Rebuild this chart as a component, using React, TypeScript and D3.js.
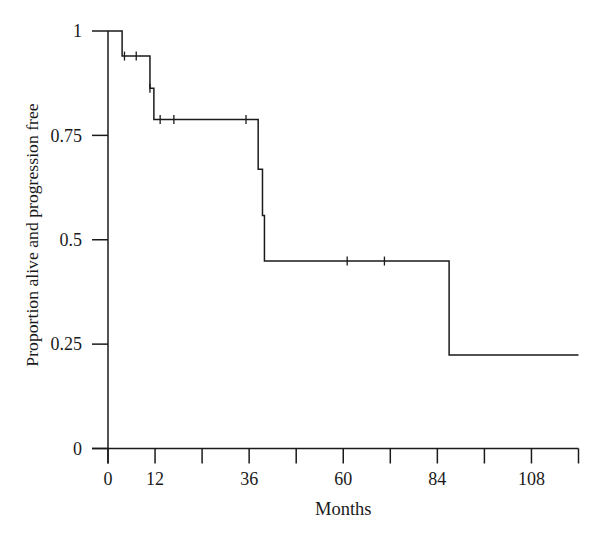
import React from "react";
import * as d3 from "d3";

const stepTimes = [0, 3.6, 10.7, 11.7, 38.3, 39.4, 39.9, 87, 120];
const stepSurv = [1, 0.94, 0.863, 0.788, 0.669, 0.558, 0.449, 0.224, 0.224];
const censorTimes = [4.2, 7.2, 10.7, 13.3, 16.8, 35.2, 61, 70.5];
const xTicks = [0, 12, 24, 36, 48, 60, 72, 84, 96, 108, 120];
const xTickLabels = ["0", "12", "", "36", "", "60", "", "84", "", "108", ""];
const yTicks = [0, 0.25, 0.5, 0.75, 1];
const yTickLabels = ["0", "0.25", "0.5", "0.75", "1"];

const W = 600;
const H = 539;
const font = "'Liberation Serif', 'Times New Roman', serif";
const ink = "#1a1a1a";

export default function App() {
  const x = d3.scaleLinear().domain([0, 120]).range([108, 578.5]);
  const y = d3.scaleLinear().domain([0, 1]).range([448.5, 31]);

  const pts: [number, number][] = stepTimes.map((t, i) => [t, stepSurv[i]]);
  const line = d3
    .line<[number, number]>()
    .x((d) => x(d[0]))
    .y((d) => y(d[1]))
    .curve(d3.curveStepAfter);

  const survAt = (t: number) => {
    let s = 1;
    for (let i = 0; i < stepTimes.length; i++) {
      if (stepTimes[i] <= t) s = stepSurv[i];
    }
    return s;
  };

  return (
    <svg width={W} height={H} style={{ position: "absolute", left: 0, top: 0 }}>
      <rect width={W} height={H} fill="#fff" />
      {/* axes */}
      <line x1={x(0)} x2={x(0)} y1={y(1)} y2={y(0) + 15} stroke={ink} strokeWidth={1.5} />
      <line x1={x(0) - 16} x2={x(120)} y1={y(0)} y2={y(0)} stroke={ink} strokeWidth={1.5} />
      {xTicks.map((t, i) => (
        <g key={"xt" + i}>
          <line x1={x(t)} x2={x(t)} y1={y(0)} y2={y(0) + 15} stroke={ink} strokeWidth={1.5} />
          {xTickLabels[i] && (
            <text x={x(t)} y={y(0) + 36.5} textAnchor="middle" fontFamily={font} fontSize={18} fill={ink}>
              {xTickLabels[i]}
            </text>
          )}
        </g>
      ))}
      {yTicks.map((v, i) => (
        <g key={"yt" + i}>
          <line x1={x(0) - 16} x2={x(0)} y1={y(v)} y2={y(v)} stroke={ink} strokeWidth={1.5} />
          <text x={82} y={y(v)} dy="0.35em" textAnchor="end" fontFamily={font} fontSize={18} fill={ink}>
            {yTickLabels[i]}
          </text>
        </g>
      ))}
      <text x={(x(0) + x(120)) / 2} y={515} textAnchor="middle" fontFamily={font} fontSize={18.5} fill={ink}>
        Months
      </text>
      <text
        transform={`translate(38,${235}) rotate(-90)`}
        textAnchor="middle"
        fontFamily={font}
        fontSize={17.7}
        fill={ink}
      >
        Proportion alive and progression free
      </text>
      {/* KM curve */}
      <path d={line(pts) || ""} fill="none" stroke={ink} strokeWidth={1.5} />
      {censorTimes.map((t, i) => (
        <line
          key={"c" + i}
          x1={x(t)}
          x2={x(t)}
          y1={y(survAt(t)) - 4.5}
          y2={y(survAt(t)) + 4.5}
          stroke={ink}
          strokeWidth={1.3}
        />
      ))}
    </svg>
  );
}
